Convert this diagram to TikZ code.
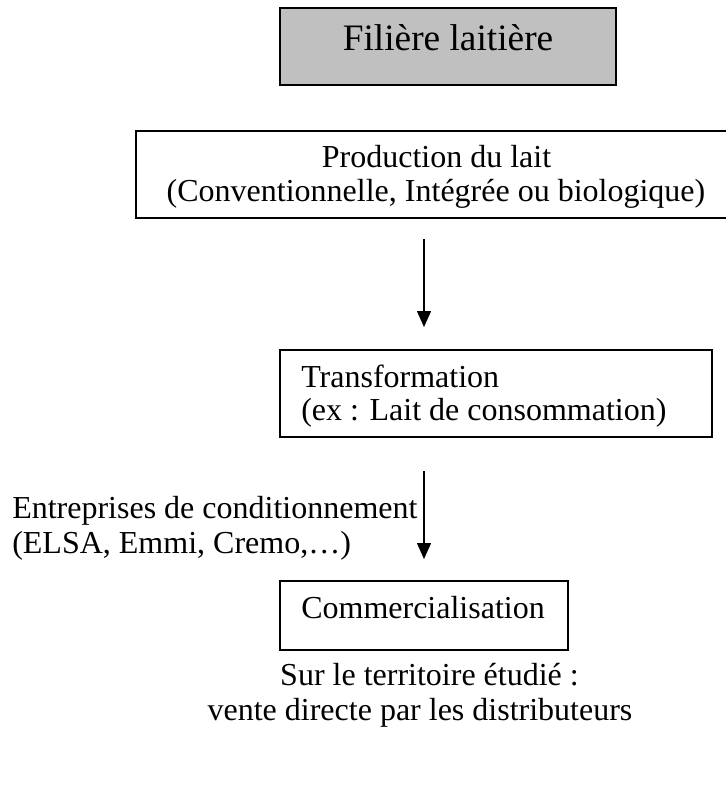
\documentclass[tikz,border=0pt]{standalone}
\usepackage{fontspec}
\setmainfont{Liberation Serif}
\usetikzlibrary{arrows.meta}
\definecolor{boxgray}{RGB}{192,192,192}
\begin{document}
\begin{tikzpicture}[x=0.75pt,y=-0.75pt,
  box/.style={draw=black, line width=1.1pt, rectangle, inner sep=0pt},
  txt/.style={inner sep=0pt, font=\fontsize{24}{28}\selectfont},
  ttl/.style={inner sep=0pt, font=\fontsize{28}{32}\selectfont},
  arr/.style={line width=1.1pt, -{Triangle[width=10.5pt,length=12pt]}}]
\useasboundingbox (0,0) rectangle (726,794);
% boxes
\node[box, fill=boxgray, minimum width=252pt, minimum height=57.75pt] (filiere) at (448,46.5) {};
\node[box, minimum width=447pt, minimum height=65.25pt] (production) at (434,174.5) {};
\node[box, minimum width=324pt, minimum height=65.25pt] (transformation) at (496,393.5) {};
\node[box, minimum width=216pt, minimum height=51.75pt] (commercial) at (424,615.5) {};
% texts
\node[ttl, anchor=base] (filieretxt) at (448,50) {Filière laitière};
\node[txt, anchor=base] (prod1) at (436.5,167) {Production du lait};
\node[txt, anchor=base] (prod2) at (436,201) {(Conventionnelle, Intégrée ou biologique)};
\node[txt, anchor=base west] (trans1) at (301,387) {Transformation};
\node[txt, anchor=base west] (trans2) at (301,420) {(ex : Lait de consommation)};
\node[txt, anchor=base west] (entr1) at (12,518) {Entreprises de conditionnement};
\node[txt, anchor=base west] (entr2) at (12,553) {(ELSA, Emmi, Cremo,…)};
\node[txt, anchor=base west] (comtxt) at (301,618) {Commercialisation};
\node[txt, anchor=base] (sur1) at (429.5,685) {Sur le territoire étudié :};
\node[txt, anchor=base] (sur2) at (420,720) {vente directe par les distributeurs};
% arrows
\coordinate (a1s) at (424,239);
\coordinate (a1e) at (424,327);
\coordinate (a2s) at (424,471);
\coordinate (a2e) at (424,559);
\draw[arr] (a1s) -- (a1e);
\draw[arr] (a2s) -- (a2e);
\end{tikzpicture}
\end{document}
